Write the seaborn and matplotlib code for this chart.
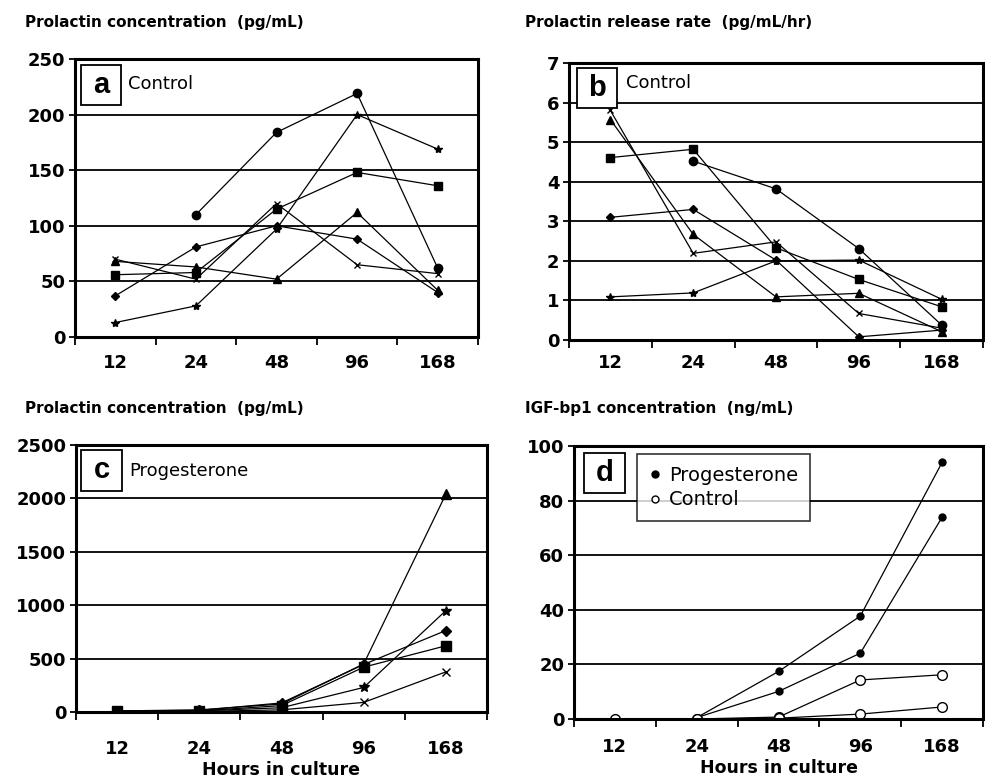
import numpy as np
import pandas as pd
import seaborn as sns
import matplotlib
matplotlib.use("Agg")
import matplotlib.pyplot as plt
from matplotlib.patches import Rectangle
from matplotlib.lines import Line2D

nan = np.nan

# hours in culture (categories on the x axis)
hours = ["12", "24", "48", "96", "168"]

# panel a: prolactin concentration, control (pg/mL)
a_circle = [nan, 110, 184, 219, 62]
a_square = [56, 58, 115, 148, 136]
a_triangle = [68, 63, 52, 112, 42]
a_diamond = [37, 81, 100, 88, 40]
a_star = [13, 28, 97, 200, 169]
a_cross = [70, 52, 120, 65, 57]

# panel b: prolactin release rate, control (pg/mL/hr)
b_circle = [nan, 4.52, 3.82, 2.31, 0.38]
b_square = [4.61, 4.82, 2.33, 1.53, 0.84]
b_triangle = [5.57, 2.67, 1.09, 1.18, 0.21]
b_diamond = [3.10, 3.30, 2.02, 0.08, 0.25]
b_star = [1.09, 1.19, 2.00, 2.02, 1.03]
b_cross = [5.80, 2.19, 2.48, 0.67, 0.30]

# panel c: prolactin concentration, progesterone (pg/mL)
c_triangle = [10, 20, 75, 450, 2040]
c_diamond = [10, 15, 85, 445, 763]
c_square = [12, 10, 60, 420, 620]
c_star = [nan, 10, 40, 230, 950]
c_cross = [nan, 5, 20, 90, 376]

# panel d: IGF-bp1 concentration (ng/mL)
d_prog1 = [nan, 0.5, 17.4, 37.7, 94.0]
d_prog2 = [nan, 0.5, 10.1, 24.1, 73.9]
d_ctrl1 = [0.0, 0.0, 0.7, 14.3, 16.2]
d_ctrl2 = [nan, 0.0, 0.3, 1.8, 4.4]

W, H = 985, 782
sns.set_theme(style="white")
plt.rcParams['font.family'] = ['DejaVu Sans']
plt.rcParams['text.color'] = 'black'
plt.rcParams['axes.labelcolor'] = 'black'
plt.rcParams['xtick.color'] = 'black'
plt.rcParams['ytick.color'] = 'black'
fig = plt.figure(figsize=(W / 100, H / 100), dpi=100)


# pixel box -> figure fraction axes
def add_axes(left, top, right, bottom):
    return fig.add_axes([left / W, 1 - bottom / H, (right - left) / W, (bottom - top) / H])


def fxy(x, y):
    return x / W, 1 - y / H


def draw_series(ax, values, marker, ms=6, mfc="black"):
    df = pd.DataFrame({"pos": range(len(hours)), "value": values}).dropna()
    sns.lineplot(data=df, x="pos", y="value", ax=ax, color="black", linewidth=0.9,
                 marker=marker, markersize=ms, markerfacecolor=mfc,
                 markeredgecolor="black", markeredgewidth=1.0)


def style_axes(ax, ymax, ystep, xpad):
    ax.set_xlim(-0.5, 4.5)
    ax.set_ylim(0, ymax)
    ax.set_yticks(np.arange(0, ymax + ystep / 2, ystep))
    ax.set_xticks(np.arange(-0.5, 5, 1))
    ax.set_xticklabels([])
    ax.set_xticks(range(len(hours)), minor=True)
    ax.set_xticklabels(hours, minor=True, fontsize=13, fontweight="bold")
    ax.tick_params(axis="x", which="major", direction="out", length=6, width=1.3,
                   bottom=True, color="black")
    ax.tick_params(axis="x", which="minor", length=0, pad=xpad)
    ax.tick_params(axis="y", direction="out", length=4, width=1.3, left=True,
                   color="black", pad=3)
    for lab in ax.get_yticklabels():
        lab.set_fontsize(13)
        lab.set_fontweight("bold")
    ax.yaxis.grid(True, color="black", linewidth=1.3)
    ax.xaxis.grid(False)
    for sp in ax.spines.values():
        sp.set_visible(True)
        sp.set_color("black")
        sp.set_linewidth(2.2)
    ax.set_xlabel("")
    ax.set_ylabel("")


def letter_box(x0, y0, x1, y1, letter):
    fx0, fy1 = fxy(x0, y1)
    fig.add_artist(Rectangle((fx0, fy1), (x1 - x0) / W, (y1 - y0) / H,
                             transform=fig.transFigure, facecolor="white",
                             edgecolor="black", linewidth=1.3, zorder=5))
    cx, cy = fxy((x0 + x1) / 2, (y0 + y1) / 2)
    fig.text(cx, cy, letter, ha="center", va="center", fontsize=21, fontweight="bold",
             family="Liberation Sans", zorder=6)


ax_a = add_axes(75, 59, 478, 337)
for vals, m, ms in [(a_circle, "o", 6), (a_square, "s", 6), (a_triangle, "^", 6),
                    (a_diamond, "D", 4.5), (a_star, "*", 6), (a_cross, "x", 5)]:
    draw_series(ax_a, vals, m, ms)
style_axes(ax_a, 250, 50, 12)

ax_b = add_axes(569, 63, 983, 340)
for vals, m, ms in [(b_circle, "o", 6), (b_square, "s", 6), (b_triangle, "^", 6),
                    (b_diamond, "D", 4.5), (b_star, "*", 6), (b_cross, "x", 5)]:
    draw_series(ax_b, vals, m, ms)
style_axes(ax_b, 7, 1, 10)

ax_c = add_axes(76, 445, 487, 712)
for vals, m, ms in [(c_triangle, "^", 7), (c_diamond, "D", 5), (c_square, "s", 7),
                    (c_star, "*", 7), (c_cross, "x", 6)]:
    draw_series(ax_c, vals, m, ms)
style_axes(ax_c, 2500, 500, 20)
ax_c.set_xlabel("Hours in culture", fontsize=12.5, fontweight="bold", labelpad=2)

ax_d = add_axes(574, 446, 983, 719)
for vals in [d_prog1, d_prog2]:
    draw_series(ax_d, vals, "o", 5)
for vals in [d_ctrl1, d_ctrl2]:
    draw_series(ax_d, vals, "o", 7, mfc="white")
style_axes(ax_d, 100, 20, 14)
ax_d.set_xlabel("Hours in culture", fontsize=12.5, fontweight="bold", labelpad=2)

handles = [Line2D([], [], linestyle="none", marker="o", markersize=5, color="black"),
           Line2D([], [], linestyle="none", marker="o", markersize=5, color="black",
                  markerfacecolor="white")]
leg = ax_d.legend(handles, ["Progesterone", "Control"], loc="upper left",
                  bbox_to_anchor=((637 - 574) / 409, 1 - (454 - 446) / 273),
                  frameon=True, fancybox=False, fontsize=14, handlelength=0.6,
                  handletextpad=0.45, borderpad=0.6, labelspacing=0.3,
                  borderaxespad=0)
leg.get_frame().set_edgecolor("black")
leg.get_frame().set_linewidth(1.2)
leg.set_zorder(10)

# panel titles
title_kw = dict(fontsize=11, fontweight="bold", va="center", ha="left")
fig.text(*fxy(25, 22), "Prolactin concentration  (pg/mL)", **title_kw)
fig.text(*fxy(525, 22), "Prolactin release rate  (pg/mL/hr)", **title_kw)
fig.text(*fxy(25, 409), "Prolactin concentration  (pg/mL)", **title_kw)
fig.text(*fxy(525, 409), "IGF-bp1 concentration  (ng/mL)", **title_kw)

# panel letters and condition notes
letter_box(81, 65, 121, 105, "a")
letter_box(577, 68, 617, 108, "b")
letter_box(81, 450, 122, 491, "c")
letter_box(584, 453, 625, 493, "d")
note_kw = dict(fontsize=13, va="center", ha="left")
fig.text(*fxy(128, 84), "Control", **note_kw)
fig.text(*fxy(626, 83), "Control", **note_kw)
fig.text(*fxy(129, 471), "Progesterone", **note_kw)

fig.savefig("out.png", dpi=100)
